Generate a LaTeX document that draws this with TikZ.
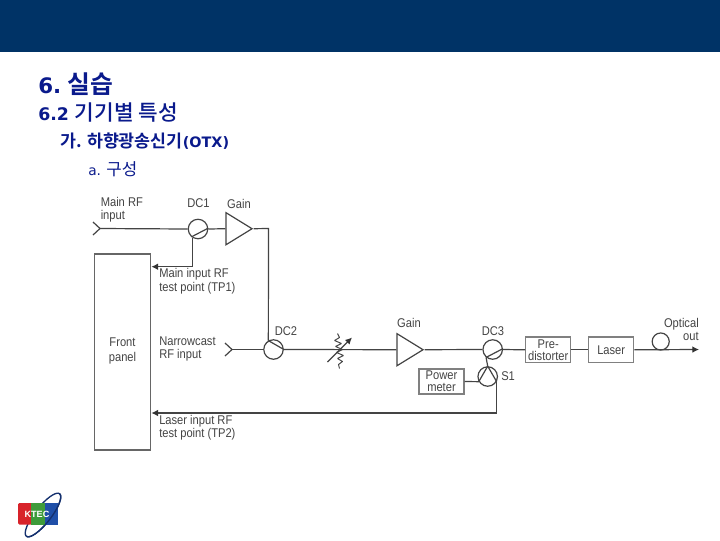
\documentclass[tikz,border=0pt]{standalone}
\usepackage{fontspec}
\usetikzlibrary{shapes.geometric,arrows.meta,calc}
\setmainfont{Liberation Sans}
\newfontfamily\labelfont[FakeStretch=0.88]{Liberation Sans}
\newfontfamily\korfont{Noto Sans CJK KR}
\newfontfamily\kormed{Noto Sans CJK KR Medium}
\newfontfamily\korbold{Noto Sans CJK KR Bold}
\newfontfamily\latbold{DejaVu Sans Bold}
\newfontfamily\latreg{DejaVu Sans}
\definecolor{band}{HTML}{003366}
\definecolor{titleblue}{HTML}{0A1A8C}
\definecolor{ink}{HTML}{444444}
\definecolor{lred}{HTML}{D8232A}
\definecolor{lgreen}{HTML}{3E9B3A}
\definecolor{lblue}{HTML}{1F4FA8}
\definecolor{lring}{HTML}{14306E}
\tikzset{
  x=0.75pt,y=-0.75pt,
  wire/.style={draw=ink,line width=0.9pt},
  wiretip/.style={wire,-{Latex[length=5pt,width=5pt,color=black!80]}},
  lab/.style={font=\labelfont\fontsize{9.5pt}{10.1pt}\selectfont,text=ink,align=left,inner sep=0pt,anchor=west},
  labc/.style={lab,anchor=center,align=center},
  coupler/.style={circle,draw=ink,line width=0.9pt,minimum size=14.6pt,inner sep=0pt},
  bx/.style={rectangle,draw=black!50,line width=0.9pt,inner sep=0pt,align=center,font=\labelfont\fontsize{9.5pt}{10.2pt}\selectfont,text=ink},
  amp/.style={isosceles triangle,isosceles triangle stretches,shape border rotate=0,draw=ink,line width=0.9pt,inner sep=0pt,minimum width=24pt,minimum height=19.5pt},
  ttl/.style={inner sep=0pt,anchor=west,text=titleblue},
}
\begin{document}
\begin{tikzpicture}
\useasboundingbox (0,0) rectangle (720,540);
\fill[white] (0,0) rectangle (720,540);
\fill[band] (0,0) rectangle (720,52);
% titles
\node[ttl] (t1) at (38,84) {\fontsize{16pt}{19pt}\selectfont\latbold 6.\hspace{5pt}\fontsize{18.6pt}{19pt}\selectfont\korbold 실습};
\node[ttl] (t2) at (38,113) {\fontsize{13pt}{16pt}\selectfont\latbold 6.2\hspace{4.5pt}\fontsize{16pt}{16pt}\selectfont\kormed 기기별 특성};
\node[ttl] (t3) at (60,141) {\fontsize{13pt}{14pt}\selectfont\korbold 가. 하향광송신기\fontsize{10.8pt}{14pt}\selectfont\latbold (OTX)};
\node[ttl] (t4) at (88,169) {\fontsize{10.3pt}{14pt}\selectfont\latreg a.\hspace{4pt}\fontsize{12.6pt}{14pt}\selectfont\korfont 구성};
% coordinates
\coordinate (in1) at (100,228.5);
\coordinate (in2) at (232,349.5);
\coordinate (corner1) at (268.5,228.5);
\coordinate (out) at (699,349.5);
% nodes
\node[coupler] (dc1) at (198,229) {};
\node[amp] (g1) at (235,228.7) {};
\node[coupler] (dc2) at (273.5,349.5) {};
\node[amp] (g2) at (406,349.7) {};
\node[coupler] (dc3) at (492.7,349.5) {};
\node[coupler] (s1) at (487.7,376.5) {};
\node[bx,minimum width=33.7pt,minimum height=19.2pt] (pre) at (548.2,349.8) {Pre-\\[-1.2pt]distorter};
\node[bx,minimum width=33.7pt,minimum height=19.2pt] (laser) at (611.2,349.8) {Laser};
\node[bx,minimum width=33.7pt,minimum height=18.7pt] (pm) at (441.5,381.5) {Power\\[-1.2pt]meter};
\node[rectangle,draw=black!60,line width=0.8pt,minimum width=42.5pt,minimum height=147pt,inner sep=0pt] (fp) at (122.5,352) {};
\node[labc] (fpl) at (122.5,351) {Front\\[1.5pt]panel};
\coordinate (tp1) at (fp.east |- 0,266.7);
\coordinate (tp2) at (fp.east |- 0,413);
% labels
\node[lab] (l1) at (100.5,209.5) {Main RF\\input};
\node[labc] (l2) at (198.5,203.5) {DC1};
\node[labc] (l3) at (239,203.5) {Gain};
\node[lab] (l4) at (159,281) {Main input RF\\test point (TP1)};
\node[lab] (l5) at (159,349) {Narrowcast\\RF input};
\node[labc] (l6) at (286,331.5) {DC2};
\node[labc] (l7) at (409,323) {Gain};
\node[labc] (l8) at (493,331) {DC3};
\node[lab] (l9) at (501,376) {S1};
\node[lab,align=right,anchor=east] (l10) at (699,329.5) {Optical\\out};
\node[lab] (l11) at (159,427.5) {Laser input RF\\test point (TP2)};
% wires
\draw[wire] (in1) -- (dc1.west);
\draw[wire] (dc1.east) -- (g1.west);
\draw[wire] (g1.apex) -- (corner1) -- (dc2.120);
\draw[wire] (in2) -- (dc2.west);
\draw[wire] (in2)++(-7,-6.5) -- (in2) -- ++(-7,6.5);
\draw[wire] (in1)++(-7,-6.5) -- (in1) -- ++(-7,6.5);
\draw[wire] (dc2.east) -- (g2.west);
\draw[wire] (g2.apex) -- (dc3.west);
\draw[wire] (dc3.east) -- (pre.west);
\draw[wire] (pre.east) -- (laser.west);
\draw[wiretip] (laser.east) -- (out);
\draw[wire] (pm.east) -- (s1.210);
% coupler diagonals
\draw[wire] (dc1.230) -- (dc1.5);
\draw[wiretip] (dc1.240) -- (dc1.240 |- tp1) -- (tp1);
\draw[wire] (dc2.120) -- (dc2.east);
\draw[wire] (dc3.230) -- (dc3.5);
\draw[wire] (dc3.230) -- (s1.north);
\draw[wire] (s1.north) -- (s1.210);
\draw[wire] (s1.north) -- (s1.330);
\draw[wiretip] (s1.330) -- (s1.330 |- tp2) -- (tp2);
% optical loop
\node[circle,draw=ink,line width=0.9pt,minimum size=12.8pt,inner sep=0pt] (oc) at (660.7,341.5) {};
% attenuator
\coordinate (att) at (338,349.5);
\draw[wire] (dc2.east) -- (att);
\draw[draw=ink,line width=0.7pt,line join=bevel] ($(att)+(-0.5,-16)$) -- ++(2,4) -- ++(-5,3) -- ++(7,3) -- ++(-6,3) -- ++(7,3) -- ++(-6,3) -- ++(7,3) -- ++(-6,3) -- ++(5,3) -- ++(-4,3) -- ++(1,4);
\draw[wiretip] ($(att)+(-10.5,12.5)$) -- ($(att)+(14,-12)$);
% logo
\draw[lring,line width=1pt,shift={(43,515)},rotate=52] (0,0) ellipse (27 and 8);
\fill[lred,rounded corners=1pt] (18,503) rectangle (32,524.5);
\fill[lgreen] (31,503) rectangle (46,524.5);
\fill[lblue] (45,503) rectangle (58,524.5);
\draw[lring,line width=1pt,shift={(43,515)},rotate=52] (27,0) arc[start angle=0,end angle=180,x radius=27,y radius=8];
\node[inner sep=0pt,font=\bfseries\fontsize{6.8pt}{7pt}\selectfont,text=white] (ktec) at (37,514) {KTEC};
\end{tikzpicture}
\end{document}
